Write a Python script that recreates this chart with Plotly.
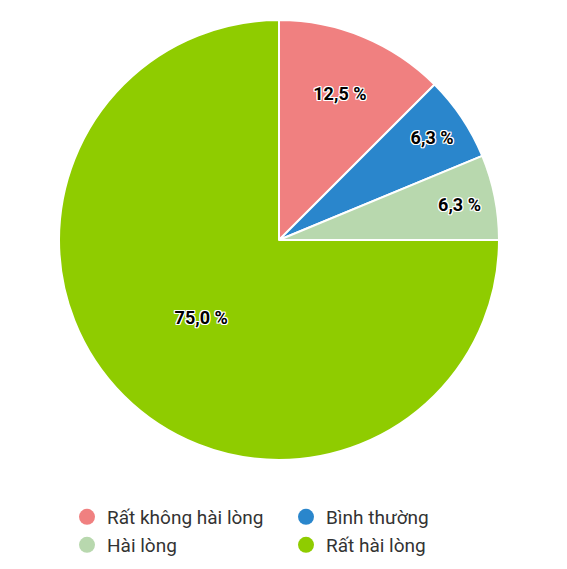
import plotly.graph_objects as go
from decimal import Decimal, ROUND_HALF_UP

categories = ["Rất không hài lòng", "Bình thường", "Hài lòng", "Rất hài lòng"]
counts = [2, 1, 1, 12]
colors = ["#F08080", "#2A86CC", "#B8D8AE", "#8FCC00"]

total = sum(counts)
labels_txt = [
    f"{(Decimal(c * 100) / Decimal(total)).quantize(Decimal('0.1'), rounding=ROUND_HALF_UP)}".replace(".", ",") + " %"
    for c in counts
]

W, H = 567, 569
fig = go.Figure()
fig.add_trace(go.Pie(
    labels=categories,
    values=counts,
    text=labels_txt,
    textinfo="text",
    textposition="inside",
    insidetextorientation="horizontal",
    sort=False,
    direction="clockwise",
    rotation=0,
    marker=dict(colors=colors, line=dict(color="white", width=2)),
    textfont=dict(family="Roboto", size=18, color="black", weight="bold",
                  shadow="1px 1px 0 white, -1px -1px 0 white, 1px -1px 0 white, -1px 1px 0 white, 0 1px 0 white, 0 -1px 0 white, 1px 0 0 white, -1px 0 0 white"),
    showlegend=False,
    hoverinfo="label+percent",
    domain=dict(x=[51 / W, 491 / W], y=[1 - 452 / H, 1 - 12 / H]),
))
legend_refs = ["legend", "legend", "legend2", "legend2"]
for cat, col, lg in zip(categories, colors, legend_refs):
    fig.add_trace(go.Scatter(
        x=[None], y=[None], mode="markers", name=cat,
        marker=dict(symbol="circle", size=16, color=col),
        showlegend=True, legend=lg,
    ))

leg_common = dict(
    orientation="h", xanchor="left", yanchor="top",
    entrywidth=174, entrywidthmode="pixels",
    font=dict(family="Roboto", size=19, color="#333333"),
    itemsizing="trace", tracegroupgap=0, bgcolor="rgba(0,0,0,0)",
)
fig.update_layout(
    width=W, height=H,
    margin=dict(l=0, r=0, t=0, b=0),
    paper_bgcolor="white", plot_bgcolor="white",
    font=dict(family="Roboto", color="#333333"),
    xaxis=dict(visible=False), yaxis=dict(visible=False),
    legend=dict(x=59 / W, y=1 - 490 / H, **leg_common),
    legend2=dict(x=59 / W, y=1 - 518 / H, **leg_common),
)
fig.write_html("out.html")
